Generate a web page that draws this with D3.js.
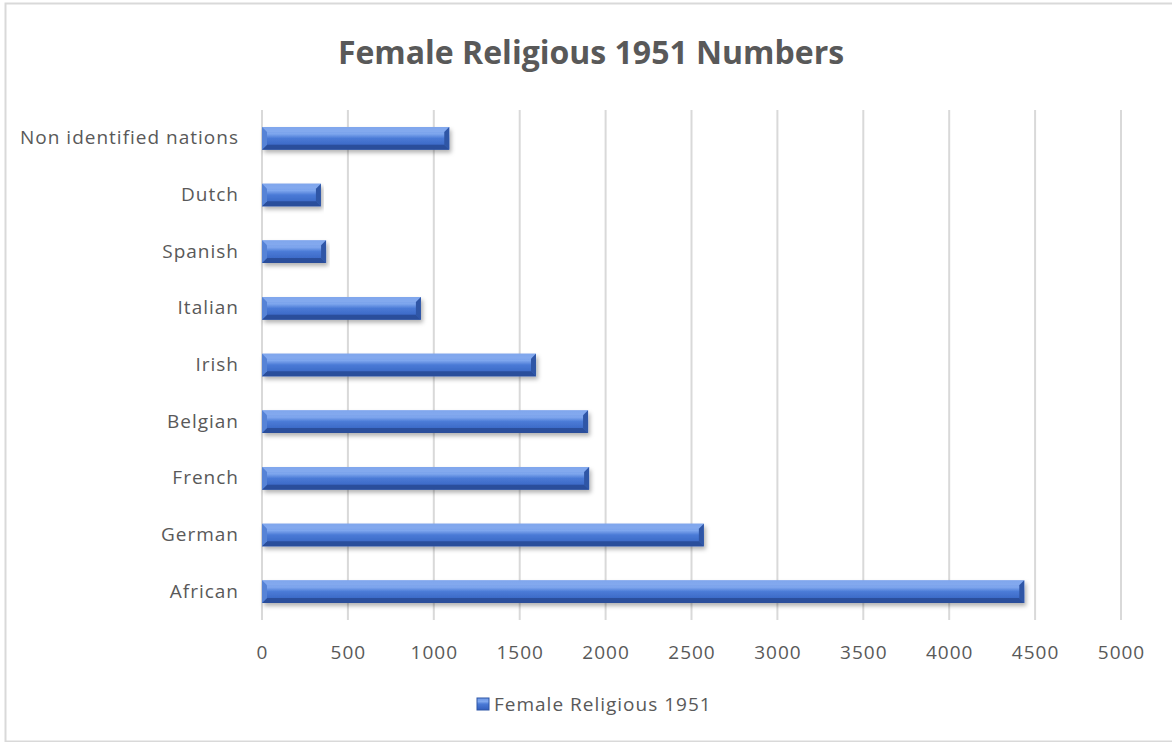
<!DOCTYPE html>
<html>
<head>
<meta charset="utf-8">
<script src="https://cdn.jsdelivr.net/npm/d3@7"></script>
<style>
  body { margin: 0; background: #fff; }
  text { font-family: "Open Sans", sans-serif; fill: #595959; }
</style>
</head>
<body>
<div id="chart"></div>
<script>
// data
const categories = ["Non identified nations", "Dutch", "Spanish", "Italian", "Irish", "Belgian", "French", "German", "African"];
const values = [1090, 343, 373, 925, 1595, 1898, 1904, 2572, 4437];
const xTicks = [0, 500, 1000, 1500, 2000, 2500, 3000, 3500, 4000, 4500, 5000];
const seriesName = "Female Religious 1951";
const title = "Female Religious 1951 Numbers";

const W = 1172, H = 742;
const margin = {top: 110, right: 51, bottom: 122, left: 262};
const width = W - margin.left - margin.right;
const height = H - margin.top - margin.bottom;

const svg = d3.select("#chart").append("svg")
    .attr("width", W)
    .attr("height", H);

// outer chart frame
svg.append("rect")
    .attr("x", 5.5).attr("y", 3.5)
    .attr("width", W + 10).attr("height", H - 4)
    .attr("fill", "none")
    .attr("stroke", "#d9d9d9")
    .attr("stroke-width", 2);

const defs = svg.append("defs");
const grad = defs.append("linearGradient")
    .attr("id", "barGrad")
    .attr("x1", 0).attr("y1", 0).attr("x2", 0).attr("y2", 1);
[[0, "#6e98e6"], [0.3, "#7fa7ee"], [0.5, "#4a7ad6"], [1, "#335fbd"]].forEach(s => {
    grad.append("stop").attr("offset", s[0]).attr("stop-color", s[1]);
});
const shadow = defs.append("filter").attr("id", "shadow")
    .attr("x", "-5%").attr("y", "-30%").attr("width", "110%").attr("height", "180%");
shadow.append("feDropShadow")
    .attr("dx", 2).attr("dy", 3).attr("stdDeviation", 2)
    .attr("flood-color", "#000").attr("flood-opacity", 0.3);

const g = svg.append("g")
    .attr("transform", `translate(${margin.left},${margin.top})`);

const x = d3.scaleLinear()
    .domain([0, 5000])
    .range([0, width]);

const y = d3.scaleBand()
    .domain(categories)
    .range([0, height])
    .paddingInner(0.6)
    .paddingOuter(0.3);

// gridlines
g.selectAll(".grid")
    .data(xTicks)
    .enter().append("line")
    .attr("class", "grid")
    .attr("x1", d => x(d)).attr("x2", d => x(d))
    .attr("y1", 0).attr("y2", height)
    .attr("stroke", "#d9d9d9")
    .attr("stroke-width", 2);

// bars with a bevel look
const bh = y.bandwidth();
const bev = 5;
const bars = g.selectAll(".bar")
    .data(categories.map((c, i) => ({cat: c, val: values[i]})))
    .enter().append("g")
    .attr("class", "bar")
    .attr("transform", d => `translate(0,${y(d.cat)})`);

bars.append("rect")
    .attr("x", 0).attr("y", 0)
    .attr("width", d => x(d.val))
    .attr("height", bh)
    .attr("fill", "url(#barGrad)")
    .attr("filter", "url(#shadow)");

// top bevel
bars.append("polygon")
    .attr("points", d => {
        const w = x(d.val);
        return `0,0 ${w},0 ${w - bev},${bev} ${bev},${bev}`;
    })
    .attr("fill", "#87adf0").attr("opacity", 0.7);
// bottom bevel
bars.append("polygon")
    .attr("points", d => {
        const w = x(d.val);
        return `0,${bh} ${w},${bh} ${w - bev},${bh - bev} ${bev},${bh - bev}`;
    })
    .attr("fill", "#284a94").attr("opacity", 0.85);
// left bevel
bars.append("polygon")
    .attr("points", `0,0 ${bev},${bev} ${bev},${bh - bev} 0,${bh}`)
    .attr("fill", "#5683d6");
// right bevel
bars.append("polygon")
    .attr("points", d => {
        const w = x(d.val);
        return `${w},0 ${w - bev},${bev} ${w - bev},${bh - bev} ${w},${bh}`;
    })
    .attr("fill", "#2f56a6");

// category axis
const yAxis = d3.axisLeft(y).tickSize(0).tickPadding(23);
g.append("g")
    .attr("class", "y-axis")
    .call(yAxis)
    .call(a => a.select(".domain").remove())
    .selectAll("text")
    .style("font-size", "19px")
    .style("letter-spacing", "1px")
    .style("fill", "#595959")
    .style("font-family", "'Open Sans', sans-serif");

// value axis
const xAxis = d3.axisBottom(x).tickValues(xTicks).tickSize(0).tickPadding(26)
    .tickFormat(d3.format("d"));
g.append("g")
    .attr("class", "x-axis")
    .attr("transform", `translate(0,${height})`)
    .call(xAxis)
    .call(a => a.select(".domain").remove())
    .selectAll("text")
    .style("font-size", "19px")
    .style("letter-spacing", "1px")
    .style("fill", "#595959")
    .style("font-family", "'Open Sans', sans-serif");

// title
svg.append("text")
    .attr("x", 591).attr("y", 64)
    .attr("text-anchor", "middle")
    .style("font-size", "32px")
    .style("font-weight", "bold")
    .text(title);

// legend
const lg = svg.append("g").attr("transform", "translate(477,698)");
lg.append("rect")
    .attr("width", 12).attr("height", 12)
    .attr("fill", "url(#barGrad)")
    .attr("stroke", "#2f56a6").attr("stroke-width", 1);
lg.append("text")
    .attr("x", 17).attr("y", 13)
    .style("font-size", "19px")
    .style("letter-spacing", "1px")
    .text(seriesName);
</script>
</body>
</html>
